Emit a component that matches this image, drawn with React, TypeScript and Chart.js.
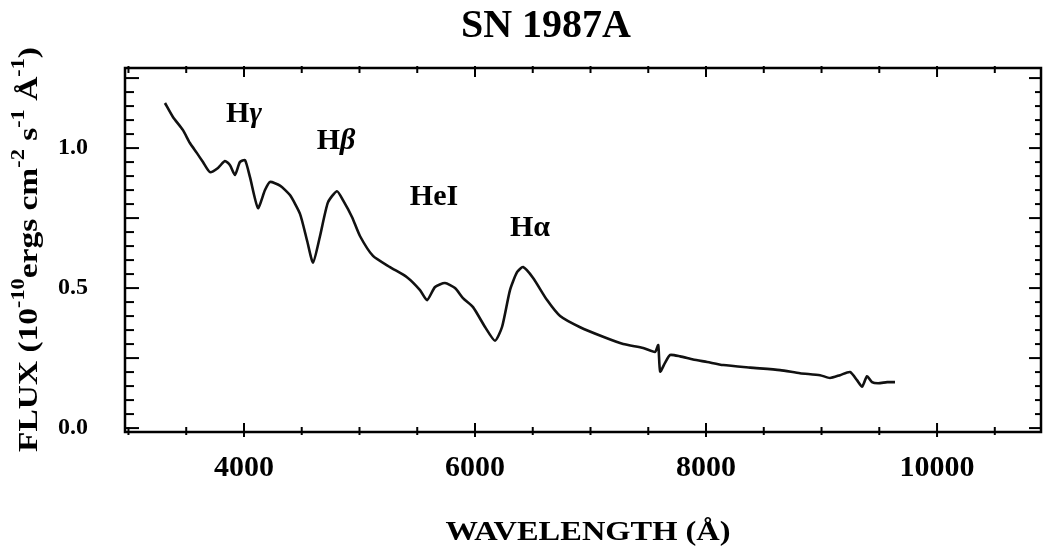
import React, { useEffect, useRef } from "react";
import { Chart, registerables } from "chart.js";

Chart.register(...registerables);

// ---- data ----
const wavelength = [
  3316, 3385, 3472, 3532, 3593, 3645, 3706, 3775, 3835, 3879, 3922, 3965, 4009, 4052, 4121, 4182,
  4225, 4312, 4398, 4485, 4546, 4598, 4658, 4727, 4805, 4857, 4935, 5004, 5117, 5264, 5411, 5524,
  5585, 5654, 5740, 5827, 5896, 5983, 6087, 6173, 6234, 6303, 6364, 6416, 6503, 6624, 6737, 6910,
  7109, 7283, 7456, 7559, 7586, 7603, 7646, 7689, 7776, 7888, 8010, 8149, 8382, 8641, 8814, 8987,
  9073, 9160, 9247, 9307, 9351, 9394, 9437, 9490, 9568, 9636,
];
const flux = [
  1.161, 1.111, 1.064, 1.018, 0.982, 0.95, 0.914, 0.929, 0.954, 0.939, 0.904, 0.95, 0.957, 0.896, 0.786, 0.85,
  0.879, 0.866, 0.832, 0.765, 0.67, 0.591, 0.685, 0.806, 0.846, 0.814, 0.754, 0.686, 0.615, 0.575, 0.539, 0.493,
  0.457, 0.504, 0.518, 0.5, 0.464, 0.432, 0.361, 0.312, 0.361, 0.493, 0.557, 0.575, 0.536, 0.457, 0.4, 0.36,
  0.326, 0.3, 0.286, 0.272, 0.296, 0.202, 0.234, 0.261, 0.256, 0.245, 0.236, 0.225, 0.216, 0.207, 0.196, 0.189,
  0.179, 0.189, 0.2, 0.171, 0.148, 0.185, 0.164, 0.16, 0.164, 0.164,
];

const xTickLabels = [4000, 6000, 8000, 10000];
const yTickLabels = [0, 0.5, 1.0];

const lineLabels = ["Hγ", "Hβ", "HeI", "Hα"];
const lineLabelX = [4000, 4797, 5645, 6476];
const lineLabelY = [1.121, 1.025, 0.825, 0.714];
const italicGlyphs = ["γ", "β"];

const chartTitle = "SN 1987A";
const xTitle = "WAVELENGTH (Å)";
// y title pieces: [text, isSuperscript]
const yTitleParts: [string, boolean][] = [
  ["FLUX (10", false],
  ["-10", true],
  ["ergs cm", false],
  ["-2", true],
  [" s", false],
  ["-1", true],
  [" Å", false],
  ["-1", true],
  [")", false],
];

const X_MIN = 2970;
const X_MAX = 10900;
const Y_MIN = -0.014;
const Y_MAX = 1.286;
const X_MINOR_STEP = 500;
const X_MAJOR_STEP = 2000;
const Y_MINOR_STEP = 0.05;
const Y_MINOR_PER_MAJOR = 5;
const Y_TICK_TOP = 1.25;

const SERIF = '"Liberation Serif", "Times New Roman", "DejaVu Serif", serif';

const decorPlugin = {
  id: "decor",
  afterDraw(chart: any) {
    const { ctx, chartArea: a, scales } = chart;
    const x = scales.x;
    const y = scales.y;
    ctx.save();
    ctx.strokeStyle = "#000";
    ctx.fillStyle = "#000";

    // frame
    ctx.lineWidth = 2.5;
    ctx.strokeRect(a.left, a.top, a.right - a.left, a.bottom - a.top);

    const seg = (x1: number, y1: number, x2: number, y2: number) => {
      ctx.beginPath();
      ctx.moveTo(x1, y1);
      ctx.lineTo(x2, y2);
      ctx.stroke();
    };

    // x ticks (bottom & top), inward with a small outward crossing
    ctx.lineWidth = 2;
    for (let v = 3000; v <= X_MAX; v += X_MINOR_STEP) {
      const px = x.getPixelForValue(v);
      if (px < a.left + 1 || px > a.right - 1) continue;
      const major = v % X_MAJOR_STEP === 0;
      const len = major ? 9 : 5;
      seg(px, a.bottom - len, px, a.bottom + (major ? 5 : 3));
      seg(px, a.top - 2, px, a.top + len);
    }
    // y ticks (left & right)
    const nY = Math.round(Y_TICK_TOP / Y_MINOR_STEP);
    for (let i = 0; i <= nY; i++) {
      const py = y.getPixelForValue(i * Y_MINOR_STEP);
      const major = i % Y_MINOR_PER_MAJOR === 0;
      seg(a.left, py, a.left + (major ? 14 : 9), py);
      seg(a.right - (major ? 12 : 6), py, a.right, py);
    }

    // chart title
    ctx.textAlign = "center";
    ctx.textBaseline = "middle";
    ctx.font = `bold 40px ${SERIF}`;
    ctx.fillText(chartTitle, 546, 27);

    // x title (slightly stretched to match width)
    ctx.font = `bold 28px ${SERIF}`;
    {
      const w = ctx.measureText(xTitle).width;
      const sx = 285 / w;
      ctx.save();
      ctx.translate((a.left + a.right) / 2 + 5, 533);
      ctx.scale(sx, 1);
      ctx.fillText(xTitle, 0, 0);
      ctx.restore();
    }

    // y title rotated with superscripts
    {
      const mainFont = `bold 27px ${SERIF}`;
      const supFont = `bold 18px ${SERIF}`;
      let total = 0;
      const widths = yTitleParts.map(([t, sup]) => {
        ctx.font = sup ? supFont : mainFont;
        const w = ctx.measureText(t).width;
        total += w;
        return w;
      });
      const target = 405;
      const s = target / total;
      ctx.save();
      ctx.translate(37, 452);
      ctx.rotate(-Math.PI / 2);
      ctx.scale(s, 1);
      ctx.textAlign = "left";
      ctx.textBaseline = "alphabetic";
      let cx = 0;
      yTitleParts.forEach(([t, sup], i) => {
        ctx.font = sup ? supFont : mainFont;
        ctx.fillText(t, cx, sup ? -13 : 0);
        cx += widths[i];
      });
      ctx.restore();
    }

    // spectral line labels
    ctx.textBaseline = "middle";
    ctx.textAlign = "left";
    lineLabels.forEach((label, i) => {
      const cxp = x.getPixelForValue(lineLabelX[i]);
      const cyp = y.getPixelForValue(lineLabelY[i]);
      const chars = Array.from(label);
      const fonts = chars.map((c) =>
        italicGlyphs.includes(c) ? `italic bold 30px ${SERIF}` : `bold 30px ${SERIF}`
      );
      let w = 0;
      const ws = chars.map((c, k) => {
        ctx.font = fonts[k];
        const m = ctx.measureText(c).width;
        w += m;
        return m;
      });
      let px = cxp - w / 2;
      chars.forEach((c, k) => {
        ctx.font = fonts[k];
        ctx.fillText(c, px, cyp);
        px += ws[k];
      });
    });

    ctx.restore();
  },
};

export default function App() {
  const canvasRef = useRef<HTMLCanvasElement | null>(null);

  useEffect(() => {
    const canvas = canvasRef.current;
    if (!canvas) return;
    const points = wavelength.map((w, i) => ({ x: w, y: flux[i] }));
    const chart = new Chart(canvas, {
      type: "scatter",
      data: {
        datasets: [
          {
            label: "SN 1987A",
            data: points,
            showLine: true,
            borderColor: "#111",
            borderWidth: 2.6,
            pointRadius: 0,
            pointHoverRadius: 0,
            tension: 0.2,
            fill: false,
          },
        ],
      },
      options: {
        responsive: false,
        animation: false,
        devicePixelRatio: 1,
        layout: { padding: { top: 68, right: 2, left: 0, bottom: 0 } },
        plugins: {
          legend: { display: false },
          tooltip: { enabled: false },
          title: { display: false },
        },
        scales: {
          x: {
            type: "linear",
            position: "bottom",
            min: X_MIN,
            max: X_MAX,
            grid: { display: false, drawTicks: false },
            border: { display: false },
            afterBuildTicks: (scale: any) => {
              scale.ticks = xTickLabels.map((v) => ({ value: v }));
            },
            afterFit: (scale: any) => {
              scale.height = 121;
            },
            ticks: {
              color: "#000",
              padding: 18,
              maxRotation: 0,
              autoSkip: false,
              font: { family: SERIF, size: 30, weight: "bold" },
              callback: (v: any) => String(v),
            },
          },
          y: {
            type: "linear",
            min: Y_MIN,
            max: Y_MAX,
            grid: { display: false, drawTicks: false },
            border: { display: false },
            afterBuildTicks: (scale: any) => {
              scale.ticks = yTickLabels.map((v) => ({ value: v }));
            },
            afterFit: (scale: any) => {
              scale.width = 125;
            },
            ticks: {
              color: "#000",
              padding: 37,
              autoSkip: false,
              font: { family: SERIF, size: 24, weight: "bold" },
              callback: (v: any) => Number(v).toFixed(1),
            },
          },
        },
      },
      plugins: [decorPlugin],
    });
    return () => chart.destroy();
  }, []);

  return (
    <div style={{ position: "fixed", left: 0, top: 0, width: 1043, height: 553, background: "#fff" }}>
      <canvas ref={canvasRef} width={1043} height={553} style={{ display: "block" }} />
    </div>
  );
}
